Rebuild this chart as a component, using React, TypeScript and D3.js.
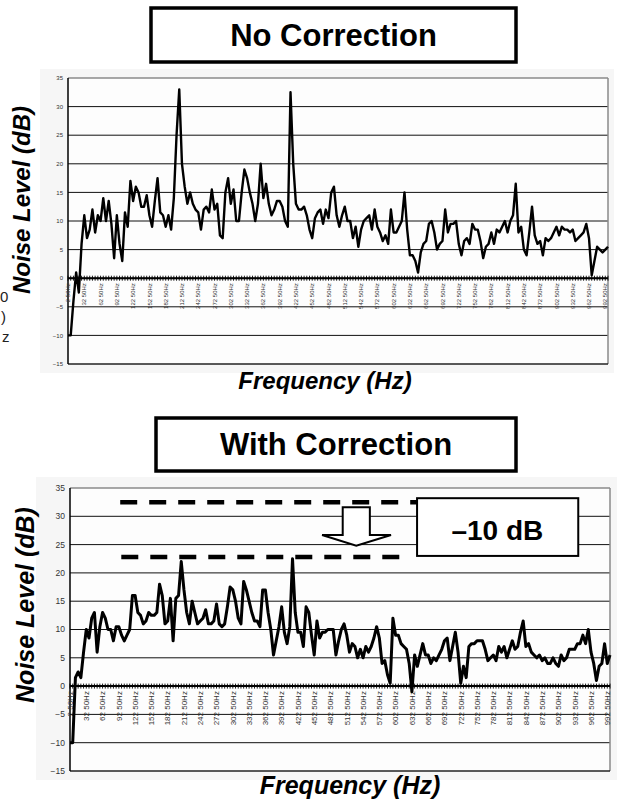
import React, { useEffect, useRef } from 'react';
import * as d3 from 'd3';

// categories: 5 Hz bins, 2.5 Hz .. 997.5 Hz
const freqs: number[] = d3.range(200).map((i) => 2.5 + 5 * i);

const tickLabels = [
  '2 50Hz', '32 50Hz', '62 50Hz', '92 50Hz', '122 50Hz', '152 50Hz', '182 50Hz', '212 50Hz',
  '242 50Hz', '272 50Hz', '302 50Hz', '332 50Hz', '362 50Hz', '392 50Hz', '422 50Hz', '452 50Hz',
  '482 50Hz', '512 50Hz', '542 50Hz', '572 50Hz', '602 50Hz', '632 50Hz', '662 50Hz', '692 50Hz',
  '722 50Hz', '752 50Hz', '782 50Hz', '812 50Hz', '842 50Hz', '872 50Hz', '902 50Hz', '932 50Hz',
  '962 50Hz', '992 50Hz',
];

const yTicks = [35, 30, 25, 20, 15, 10, 5, 0, -5, -10, -15];

const noCorrection = [
  -10, -10, -4, 1, -2.5, 6, 11, 7, 8.5, 12,
  8, 11, 10, 14, 10, 13.5, 9.5, 3.5, 11, 6,
  3, 11.5, 9, 17, 13.5, 16, 15, 12.5, 12.5, 14.5,
  11, 9, 13.5, 17.5, 11.5, 11, 9, 11, 8.5, 14,
  25, 33, 20, 16, 13, 15, 13, 12, 11.5, 8.5,
  12, 12.5, 11.5, 15.5, 12, 13, 7.5, 7, 15, 17.5,
  13, 15.5, 10, 10, 15, 19, 17.5, 15, 13, 10,
  13, 20, 14, 16.5, 13, 11, 12, 13.5, 13.5, 12.5,
  10, 9, 32.5, 20, 13, 12, 12, 12.5, 11, 8.5,
  7, 10.5, 11.5, 12, 9.5, 12, 10.5, 15, 16, 11,
  9, 11, 12.5, 10, 10, 7, 9, 5.5, 8.5, 10,
  10.5, 11, 8.5, 12, 9, 8, 6.5, 7.5, 6, 12,
  8, 8, 9, 10, 15, 8.5, 4, 4, 3, 1,
  4.5, 6, 6.5, 9.5, 10, 8, 5, 6, 6.5, 12,
  8, 9.5, 9.5, 10, 6, 4, 6.5, 7, 6, 9.5,
  8.5, 8.5, 6.5, 3.5, 5.5, 6, 8, 6, 8.5, 8,
  9, 10, 8, 10, 11, 16.5, 8, 9, 5, 4,
  8, 12.5, 7.5, 6, 6.5, 4, 7, 6.5, 7, 8,
  9, 7.5, 9, 8.5, 8.5, 8, 8.5, 6.5, 7, 7.5,
  8, 9.5, 7, 0.5, 3, 5.5, 5, 4.5, 5, 5.5,
];

const withCorrection = [
  -10, -10, 1.5, 2.5, 1.5, 6, 10, 8.5, 12, 13,
  6, 10.5, 13, 12, 10, 10, 8, 10.5, 10.5, 9,
  8, 9, 10, 16, 16, 13, 12.5, 11, 11.5, 13,
  12.5, 12.5, 13, 18, 16, 11, 11.5, 15.5, 8, 15.5,
  16, 22, 17, 13, 11, 15, 13, 11, 11.5, 12,
  13.5, 11, 11, 11.5, 14.5, 11, 10.5, 11, 14, 17.5,
  17, 15, 12, 11, 18.5, 17, 15, 13, 11.5, 11.5,
  10.5, 17, 17, 13, 10, 5.5, 8, 10.5, 14, 9.5,
  7.5, 10.5, 22.5, 13, 9.5, 9.5, 7, 14, 13, 9,
  5.5, 11.5, 8.5, 9.5, 9.5, 10, 10, 10, 5.5, 8,
  10, 11, 9, 6, 7.5, 7, 5, 6.5, 5, 7,
  6, 7, 8.5, 10.5, 8.5, 4, 4.5, 2, 0.5, 12,
  9, 9, 7.5, 7, 6.5, 4, -1, 5.5, 3.5, 5.5,
  7.5, 5.5, 5.5, 4, 5, 4.5, 5.5, 6.5, 8, 8.5,
  4.5, 7, 9.5, 6, 0.5, 3.5, 1.5, 7, 7.5, 7.5,
  8, 8, 8, 6.5, 4.5, 5, 5.5, 4.5, 7, 6,
  7, 5, 6.5, 8, 6.5, 7, 9.5, 11.5, 7, 7.5,
  6, 5.5, 5, 5.5, 4.5, 5, 4, 4, 5, 4,
  3.5, 5.5, 4.5, 5, 6.5, 6.5, 6.5, 7.5, 7.5, 9,
  7.5, 10, 6, 4, 1, 3.5, 4, 7.5, 4, 5.5,
];

// annotation values (dB / Hz)
const peakLevel = 32.5;
const correctedLevel = 22.8;
const annotation = '\u201310 dB';

const FONT = "'Liberation Sans', Arial, Helvetica, sans-serif";

type Panel = {
  title: string;
  data: number[];
  plot: { left: number; right: number; top: number; bottom: number };
  bg: { x0: number; x1: number; y0: number; y1: number };
  box: { x0: number; x1: number; y0: number; y1: number; baseline: number; size: number };
  tickFont: number;
  labelFont: number;
  lineWidth: number;
  yTitle: { x: number; y: number; size: number };
  xTitle: { x: number; y: number; size: number };
};

const panels: Panel[] = [
  {
    title: 'No Correction',
    data: noCorrection,
    plot: { left: 68, right: 608, top: 78, bottom: 364 },
    bg: { x0: 40, x1: 614, y0: 69, y1: 373 },
    box: { x0: 151, x1: 516, y0: 8, y1: 62, baseline: 46, size: 31 },
    tickFont: 6,
    labelFont: 6,
    lineWidth: 2.4,
    yTitle: { x: 30, y: 200, size: 24 },
    xTitle: { x: 325, y: 389, size: 24 },
  },
  {
    title: 'With Correction',
    data: withCorrection,
    plot: { left: 70, right: 610, top: 488, bottom: 771 },
    bg: { x0: 36, x1: 617, y0: 477, y1: 780 },
    box: { x0: 156, x1: 516, y0: 418, y1: 471, baseline: 455, size: 31 },
    tickFont: 8.5,
    labelFont: 8,
    lineWidth: 3,
    yTitle: { x: 34, y: 605, size: 25 },
    xTitle: { x: 350, y: 794, size: 25 },
  },
];

function drawPanel(svg: d3.Selection<SVGSVGElement, unknown, null, undefined>, p: Panel, withNote: boolean) {
  const { plot } = p;
  const g = svg.append('g');

  const x = d3.scalePoint<string>().domain(freqs.map(String)).range([plot.left, plot.right]);
  const xf = d3.scaleLinear().domain([freqs[0], freqs[freqs.length - 1]]).range([plot.left, plot.right]);
  const y = d3.scaleLinear().domain([-15, 35]).range([plot.bottom, plot.top]);

  // faint chart area
  g.append('rect')
    .attr('x', p.bg.x0).attr('y', p.bg.y0)
    .attr('width', p.bg.x1 - p.bg.x0).attr('height', p.bg.y1 - p.bg.y0)
    .attr('fill', '#f6f6f6');
  g.append('rect')
    .attr('x', plot.left).attr('y', plot.top)
    .attr('width', plot.right - plot.left).attr('height', plot.bottom - plot.top)
    .attr('fill', '#fdfdfd');

  // title box
  g.append('rect')
    .attr('x', p.box.x0).attr('y', p.box.y0)
    .attr('width', p.box.x1 - p.box.x0).attr('height', p.box.y1 - p.box.y0)
    .attr('fill', '#fff').attr('stroke', '#000').attr('stroke-width', 3.5);
  g.append('text')
    .attr('x', (p.box.x0 + p.box.x1) / 2).attr('y', p.box.baseline)
    .attr('text-anchor', 'middle')
    .style('font-family', FONT).style('font-weight', 'bold').style('font-size', `${p.box.size}px`)
    .text(p.title);

  // gridlines
  g.selectAll('line.grid')
    .data(yTicks.filter((t) => t !== 35 && t !== -15))
    .join('line')
    .attr('x1', plot.left).attr('x2', plot.right)
    .attr('y1', (d) => y(d)).attr('y2', (d) => y(d))
    .attr('stroke', '#111').attr('stroke-width', 1);

  // frame: top and right gray, bottom and left black
  g.append('line').attr('x1', plot.left).attr('x2', plot.right).attr('y1', y(35)).attr('y2', y(35))
    .attr('stroke', '#8a8a8a').attr('stroke-width', 1.5);
  g.append('line').attr('x1', plot.right).attr('x2', plot.right).attr('y1', y(35)).attr('y2', y(-15))
    .attr('stroke', '#8a8a8a').attr('stroke-width', 1.5);
  g.append('line').attr('x1', plot.left).attr('x2', plot.right).attr('y1', y(-15)).attr('y2', y(-15))
    .attr('stroke', '#222').attr('stroke-width', 1.5);
  g.append('line').attr('x1', plot.left).attr('x2', plot.left).attr('y1', y(35)).attr('y2', y(-15))
    .attr('stroke', '#000').attr('stroke-width', 1.5);

  // y tick labels
  g.selectAll('text.ytick')
    .data(yTicks)
    .join('text')
    .attr('x', plot.left - 5)
    .attr('y', (d) => y(d) + p.tickFont * 0.35)
    .attr('text-anchor', 'end')
    .style('font-family', FONT).style('font-size', `${p.tickFont}px`).attr('fill', '#333')
    .text((d) => (d < 0 ? `\u2212${-d}` : `${d}`));

  // category axis at 0 dB with comb ticks
  g.append('line').attr('x1', plot.left).attr('x2', plot.right).attr('y1', y(0)).attr('y2', y(0))
    .attr('stroke', '#000').attr('stroke-width', 2);
  g.selectAll('line.xtick')
    .data(freqs)
    .join('line')
    .attr('x1', (d) => x(String(d)) as number).attr('x2', (d) => x(String(d)) as number)
    .attr('y1', y(0) - 2.5).attr('y2', y(0) + 2.5)
    .attr('stroke', '#000').attr('stroke-width', 0.9);

  g.selectAll('text.xlabel')
    .data(tickLabels)
    .join('text')
    .attr('transform', (_, i) => `translate(${(x(String(freqs[i * 6])) as number) + p.labelFont * 0.35},${y(0) + 5}) rotate(-90)`)
    .attr('text-anchor', 'end')
    .style('font-family', FONT).style('font-size', `${p.labelFont}px`).attr('fill', '#333')
    .text((d) => d);

  // noise curve
  const line = d3.line<number>()
    .x((_, i) => x(String(freqs[i])) as number)
    .y((d) => y(d));
  g.append('path')
    .datum(p.data)
    .attr('fill', 'none')
    .attr('stroke', '#000')
    .attr('stroke-width', p.lineWidth)
    .attr('stroke-linejoin', 'round')
    .attr('d', line);

  // axis titles
  g.append('text')
    .attr('transform', `translate(${p.yTitle.x},${p.yTitle.y}) rotate(-90)`)
    .attr('text-anchor', 'middle')
    .style('font-family', FONT).style('font-weight', 'bold').style('font-style', 'italic')
    .style('font-size', `${p.yTitle.size}px`)
    .text('Noise Level (dB)');
  g.append('text')
    .attr('x', p.xTitle.x).attr('y', p.xTitle.y)
    .attr('text-anchor', 'middle')
    .style('font-family', FONT).style('font-weight', 'bold').style('font-style', 'italic')
    .style('font-size', `${p.xTitle.size}px`)
    .text('Frequency (Hz)');

  if (withNote) {
    // dashed levels: before and after correction
    const dash = [
      { v: peakLevel, f0: 95, f1: 642 },
      { v: correctedLevel, f0: 97, f1: 612 },
    ];
    g.selectAll('line.level')
      .data(dash)
      .join('line')
      .attr('x1', (d) => xf(d.f0)).attr('x2', (d) => xf(d.f1))
      .attr('y1', (d) => y(d.v)).attr('y2', (d) => y(d.v))
      .attr('stroke', '#000').attr('stroke-width', 4.5)
      .attr('stroke-dasharray', '17 12');

    // hollow down arrow
    const arrow: [number, number][] = [
      [505, 31.6], [555, 31.6], [555, 26.7], [594, 26.7], [530, 24.8], [467, 26.7], [505, 26.7],
    ];
    g.append('path')
      .attr('d', d3.line<[number, number]>().x((d) => xf(d[0])).y((d) => y(d[1]))(arrow) + 'Z')
      .attr('fill', '#fff').attr('stroke', '#000').attr('stroke-width', 2);

    // -10 dB box
    g.append('rect')
      .attr('x', xf(642)).attr('y', y(33.2))
      .attr('width', xf(939) - xf(642)).attr('height', y(23) - y(33.2))
      .attr('fill', '#fff').attr('stroke', '#000').attr('stroke-width', 2);
    g.append('text')
      .attr('x', xf(790)).attr('y', y(25.9))
      .attr('text-anchor', 'middle')
      .style('font-family', FONT).style('font-weight', 'bold').style('font-size', '28px')
      .text(annotation);
  }
}

export default function App() {
  const ref = useRef<SVGSVGElement>(null);

  useEffect(() => {
    const svg = d3.select(ref.current as SVGSVGElement);
    svg.selectAll('*').remove();

    svg.append('rect').attr('width', 617).attr('height', 802).attr('fill', '#fff');

    drawPanel(svg, panels[0], false);
    drawPanel(svg, panels[1], true);

    // clipped leftovers of the neighbouring slide
    const frag = [
      { t: '0', x: 0, y: 302 },
      { t: ')', x: 1, y: 322 },
      { t: 'z', x: 2, y: 342 },
    ];
    svg.selectAll('text.frag')
      .data(frag)
      .join('text')
      .attr('x', (d) => d.x).attr('y', (d) => d.y)
      .style('font-family', FONT).style('font-size', '15px').attr('fill', '#222')
      .text((d) => d.t);
  }, []);

  return (
    <svg
      ref={ref}
      width={617}
      height={802}
      style={{ position: 'absolute', left: 0, top: 0, display: 'block' }}
    />
  );
}
